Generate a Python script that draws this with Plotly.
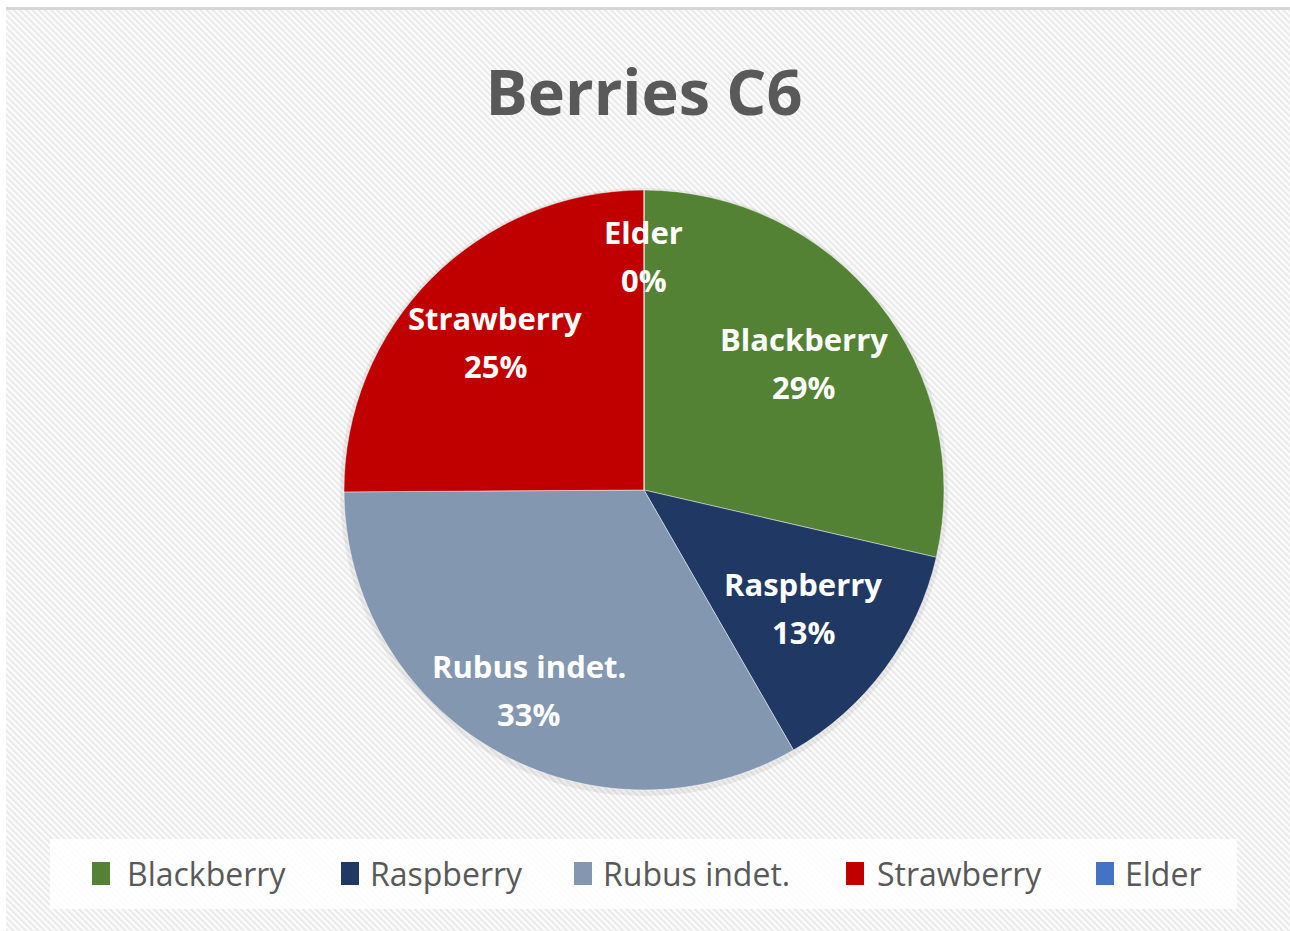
import math
import plotly.graph_objects as go

# Berry composition, sample C6 (percent of identified remains)
categories = ["Blackberry", "Raspberry", "Rubus indet.", "Strawberry", "Elder"]
values = [28.6, 13.1, 33.2, 25.1, 0.0]
colors = ["#548235", "#1f3864", "#8497b0", "#c00000", "#4472c4"]

W, H = 1290, 931
CX, CY, R = 644, 490, 300          # pie centre and radius in pixels
label_radius = [0.68, 0.66, 0.77, 0.70, 0.78]   # radial placement of slice labels

# legend layout (pixels)
legend_marker_x = [92, 341, 574, 846, 1096]
legend_text_x = [125, 368, 601, 875, 1123]


def px_x(x):
    return x / W


def px_y(y):
    return 1 - y / H


# diagonal hatch for the chart background
hatch_svg = (
    "data:image/svg+xml;utf8,"
    "<svg xmlns='http://www.w3.org/2000/svg' width='1284' height='921'>"
    "<defs><pattern id='h' width='4.4' height='10' patternUnits='userSpaceOnUse' "
    "patternTransform='rotate(-45)'>"
    "<rect width='4.4' height='10' fill='%23fcfcfc'/>"
    "<rect width='2.1' height='10' fill='%23eaeaea'/></pattern></defs>"
    "<rect width='1284' height='921' fill='url(%23h)'/></svg>"
)

fig = go.Figure()

fig.add_trace(go.Pie(
    labels=categories,
    values=values,
    marker=dict(colors=colors, line=dict(color="rgba(255,255,255,0.45)", width=1)),
    sort=False,
    direction="clockwise",
    rotation=0,
    textinfo="none",
    hoverinfo="label+percent",
    showlegend=False,
    domain=dict(x=[px_x(CX - R), px_x(CX + R)], y=[px_y(CY + R), px_y(CY - R)]),
))

# slice labels: name and rounded share, placed at each slice's mid-angle
total = sum(values)
annotations = []
cum = 0.0
for name, v, rf in zip(categories, values, label_radius):
    frac = v / total
    mid = (cum + frac / 2) * 2 * math.pi
    cum += frac
    lx = CX + rf * R * math.sin(mid)
    ly = CY - rf * R * math.cos(mid)
    pct = f"{round(frac * 100):d}%"
    for txt, dy in ((name, -24), (pct, 24)):
        annotations.append(dict(
            x=px_x(lx), y=px_y(ly + dy), xref="paper", yref="paper",
            text=f"<b>{txt}</b>", showarrow=False,
            xanchor="center", yanchor="middle",
            font=dict(family="Open Sans", size=31, color="white"),
        ))

shapes = [
    # top border of the chart area
    dict(type="rect", xref="paper", yref="paper",
         x0=px_x(6), x1=1, y0=px_y(10), y1=px_y(7),
         fillcolor="#d6d6d6", line=dict(width=0), layer="below"),
    # soft shadow behind the pie
    dict(type="circle", xref="paper", yref="paper",
         x0=px_x(CX - R - 4), x1=px_x(CX + R + 4),
         y0=px_y(CY + R + 6), y1=px_y(CY - R - 2),
         fillcolor="rgba(0,0,0,0.06)", line=dict(width=0), layer="below"),
    # legend box
    dict(type="rect", xref="paper", yref="paper",
         x0=px_x(50), x1=px_x(1237), y0=px_y(909), y1=px_y(839),
         fillcolor="rgba(255,255,255,0.85)", line=dict(width=0), layer="below"),
]

# legend entries
for name, col, mx, tx in zip(categories, colors, legend_marker_x, legend_text_x):
    shapes.append(dict(
        type="rect", xref="paper", yref="paper",
        x0=px_x(mx), x1=px_x(mx + 18), y0=px_y(885), y1=px_y(862),
        fillcolor=col, line=dict(width=0),
    ))
    annotations.append(dict(
        x=px_x(tx), y=px_y(873), xref="paper", yref="paper",
        text=name, showarrow=False, xanchor="left", yanchor="middle",
        font=dict(family="Open Sans", size=32, color="#595959"),
    ))

fig.update_layout(
    width=W, height=H,
    margin=dict(l=0, r=0, t=0, b=0),
    paper_bgcolor="white",
    plot_bgcolor="white",
    title=dict(
        text="<b>Berries C6</b>",
        x=px_x(644), y=px_y(93), xanchor="center", yanchor="middle",
        font=dict(family="Open Sans", size=63, color="#595959"),
    ),
    images=[dict(
        source=hatch_svg, xref="paper", yref="paper",
        x=px_x(6), y=px_y(10), sizex=1 - px_x(6), sizey=px_y(10),
        xanchor="left", yanchor="top", sizing="stretch", layer="below",
    )],
    shapes=shapes,
    annotations=annotations,
)

fig.write_html("out.html")
